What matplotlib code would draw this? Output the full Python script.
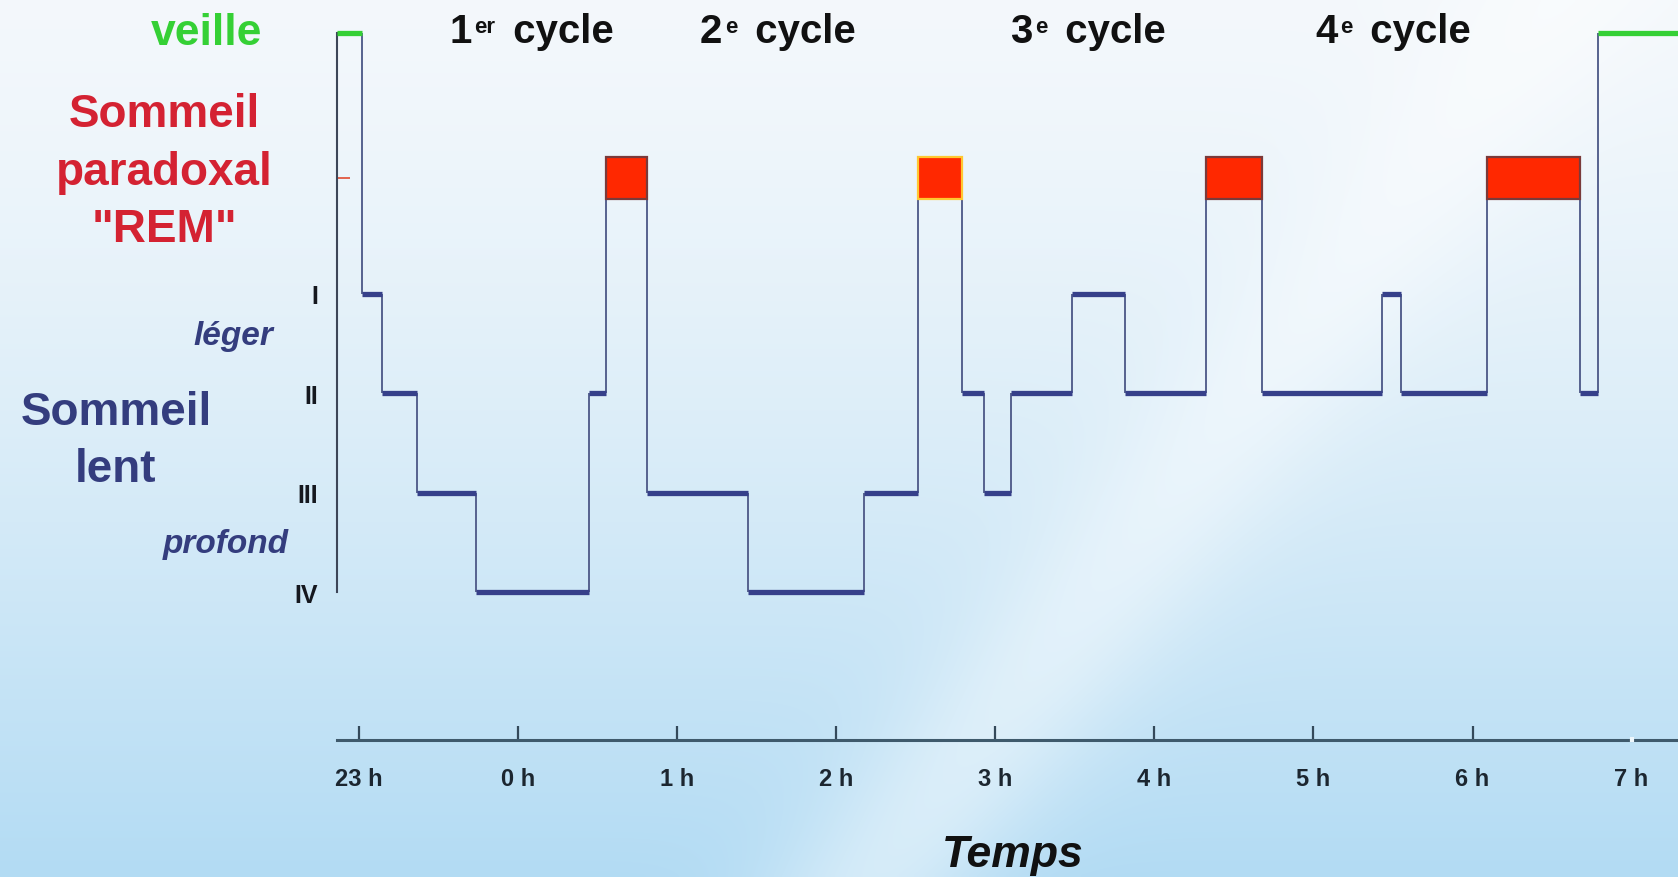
import numpy as np
import matplotlib
matplotlib.use("Agg")
import matplotlib.pyplot as plt
from matplotlib.patches import Rectangle

# ---------------- data ----------------
stage_names = ["veille", "REM", "I", "II", "III", "IV"]
stage_levels = [5.62, 4.16, 3.0, 2.0, 1.0, 0.0]   # vertical position of each stage
level = dict(zip(stage_names, stage_levels))

# segment start times in minutes after 23:00, and the stage of each segment
seg_start_min = [-8.4, 1, 8.6, 22, 44, 86.9, 93.2, 108.5, 146.8, 190.5, 210.7,
                 227.6, 235.7, 245.8, 268.8, 288.9, 319.5, 340.5, 385.7, 393.0,
                 425.5, 460.5, 467.2]
seg_stage = ["veille", "I", "II", "III", "IV", "II", "REM", "III", "IV", "III", "REM",
             "II", "III", "II", "I", "II", "REM", "II", "I", "II",
             "REM", "II", "veille"]
end_min = 497.5

hour_ticks_min = [0, 60, 120, 180, 240, 300, 360, 420, 480]
hour_labels = ["23 h", "0 h", "1 h", "2 h", "3 h", "4 h", "5 h", "6 h", "7 h"]
light_stage_labels = ["I", "II", "III", "IV"]

cycle_numbers = ["1", "2", "3", "4"]
cycle_suffixes = ["er", "e", "e", "e"]
cycle_word = " cycle"

# ---------------- style ----------------
plt.rcParams["font.family"] = ["Liberation Sans", "DejaVu Sans"]

W_PX, H_PX = 1678, 878
fig = plt.figure(figsize=(W_PX / 100, H_PX / 100), dpi=100)

# background gradient
bg = fig.add_axes([0, 0, 1, 1], zorder=-5)
H, W = 220, 420
yy, xx = np.mgrid[0:H, 0:W]
Y = yy / (H - 1) * H_PX
X = xx / (W - 1) * W_PX
t = Y / H_PX
top = np.array([0.955, 0.972, 0.986])
bot = np.array([0.70, 0.86, 0.955])
img = top + (bot - top) * (t ** 1.4)[..., None]
p0 = np.array([880.0, 878.0]); p1 = np.array([1560.0, 0.0])
d = p1 - p0
n = np.array([d[1], -d[0]]) / np.linalg.norm(d)
dist = (X - p0[0]) * n[0] + (Y - p0[1]) * n[1]
band = np.exp(-(dist / 90.0) ** 2) * 0.45
img = img + (1 - img) * band[..., None]
bg.imshow(np.clip(img, 0, 1), aspect="auto", extent=[0, 1, 0, 1],
          interpolation="bilinear", origin="upper")
bg.set_xlim(0, 1); bg.set_ylim(0, 1)
bg.axis("off")

# main axes
left_px, axis_y_px = 336.7, 740.7
ax = fig.add_axes([left_px / W_PX, 1 - axis_y_px / H_PX,
                   1 - left_px / W_PX, axis_y_px / H_PX])
ax.patch.set_alpha(0)
ax.set_xlim(seg_start_min[0], end_min)
ax.set_ylim(-1.484, 5.96)

navy = "#36408a"
vcol = "#56628f"
green = "#35d035"

seg_end = seg_start_min[1:] + [end_min]
for i, (x0, x1, st) in enumerate(zip(seg_start_min, seg_end, seg_stage)):
    y = level[st]
    if st == "REM":
        ec = "#ffc830" if i == 10 else "#7a3a3a"
        ax.add_patch(Rectangle((x0, y - 0.215), x1 - x0, 0.43, facecolor="#ff2800",
                               edgecolor=ec, linewidth=1.6, zorder=5))
    elif st == "veille":
        ax.hlines(y, x0, x1, color=green, linewidth=3.8, zorder=4, clip_on=False)
    else:
        ax.hlines(y, x0, x1, color=navy, linewidth=3.8, zorder=4)
    if i > 0:
        yp = level[seg_stage[i - 1]]
        ax.vlines(x0, min(y, yp), max(y, yp), color=vcol, linewidth=1.4, zorder=3)

# spines
for s in ("top", "right"):
    ax.spines[s].set_visible(False)
ax.spines["left"].set_bounds(0, level["veille"])
ax.spines["left"].set_color("#3d4658")
ax.spines["left"].set_linewidth(1.5)
ax.spines["bottom"].set_color("#3f5a6c")
ax.spines["bottom"].set_linewidth(2.2)

# x ticks: last hour has no dark tick mark (a light gap in the axis instead)
ax.set_xticks(hour_ticks_min[:-1])
ax.set_xticklabels(hour_labels[:-1], fontweight="bold", fontsize=17, color="#1c2630")
ax.set_xticks(hour_ticks_min[-1:], minor=True)
ax.set_xticklabels(hour_labels[-1:], minor=True, fontweight="bold", fontsize=17,
                   color="#1c2630")
ax.tick_params(axis="x", which="major", direction="in", length=10, width=1.6,
               color="#34495a", pad=20)
ax.tick_params(axis="x", which="minor", direction="in", length=0, pad=20)
ax.plot([hour_ticks_min[-1]] * 2, [-1.484 - 0.02, -1.484 + 0.03], color="#eef7fc",
        linewidth=3, clip_on=False, zorder=6, solid_capstyle="butt")

# y ticks
ax.set_yticks([level[s] for s in light_stage_labels])
ax.set_yticklabels(light_stage_labels, fontweight="bold", fontsize=18, color="#15181f")
ax.tick_params(axis="y", which="major", length=0, pad=13.5)
ax.set_yticks([level["REM"]], minor=True)
ax.tick_params(axis="y", which="minor", direction="in", length=9, width=1.2,
               color="#e04a30")


def ftext(x, y, s, **kw):
    return fig.text(x / W_PX, 1 - y / H_PX, s, **kw)


red = "#d42232"
blue = "#343d7e"
ftext(262, 45, "veille", color=green, fontsize=32, fontweight="bold", ha="right", va="baseline")
ftext(164, 126.7, "Sommeil", color=red, fontsize=33, fontweight="bold", ha="center", va="baseline")
ftext(164, 185, "paradoxal", color=red, fontsize=33, fontweight="bold", ha="center", va="baseline")
ftext(164, 241.7, '"REM"', color=red, fontsize=33, fontweight="bold", ha="center", va="baseline")
ftext(116, 425, "Sommeil", color=blue, fontsize=33, fontweight="bold", ha="center", va="baseline")
ftext(116, 481.7, "lent", color=blue, fontsize=33, fontweight="bold", ha="center", va="baseline")
ftext(273.6, 345, "léger", color=blue, fontsize=24, fontweight="bold", fontstyle="italic",
      ha="right", va="baseline")
ftext(289, 553.3, "profond", color=blue, fontsize=24, fontweight="bold", fontstyle="italic",
      ha="right", va="baseline")

cycle_left_px = [449, 700, 1010, 1315]
for lx, num, suf in zip(cycle_left_px, cycle_numbers, cycle_suffixes):
    t1 = ftext(lx, 43, num, color="#111111", fontsize=29, fontweight="bold",
               ha="left", va="baseline")
    t2 = bg.annotate(suf, xy=(1, 1), xycoords=t1, xytext=(2, -3),
                     textcoords="offset points", fontsize=16, fontweight="bold",
                     color="#111111", ha="left", va="top", annotation_clip=False)
    bg.annotate(cycle_word, xy=(1, 0), xycoords=(t2, t1), xytext=(5, 0),
                textcoords="offset points", fontsize=29, fontweight="bold",
                color="#111111", ha="left", va="bottom", annotation_clip=False)

ftext(1013, 866.7, "Temps", color="#111111", fontsize=32, fontweight="bold", fontstyle="italic",
      ha="center", va="baseline")

fig.savefig("out.png", dpi=100)
